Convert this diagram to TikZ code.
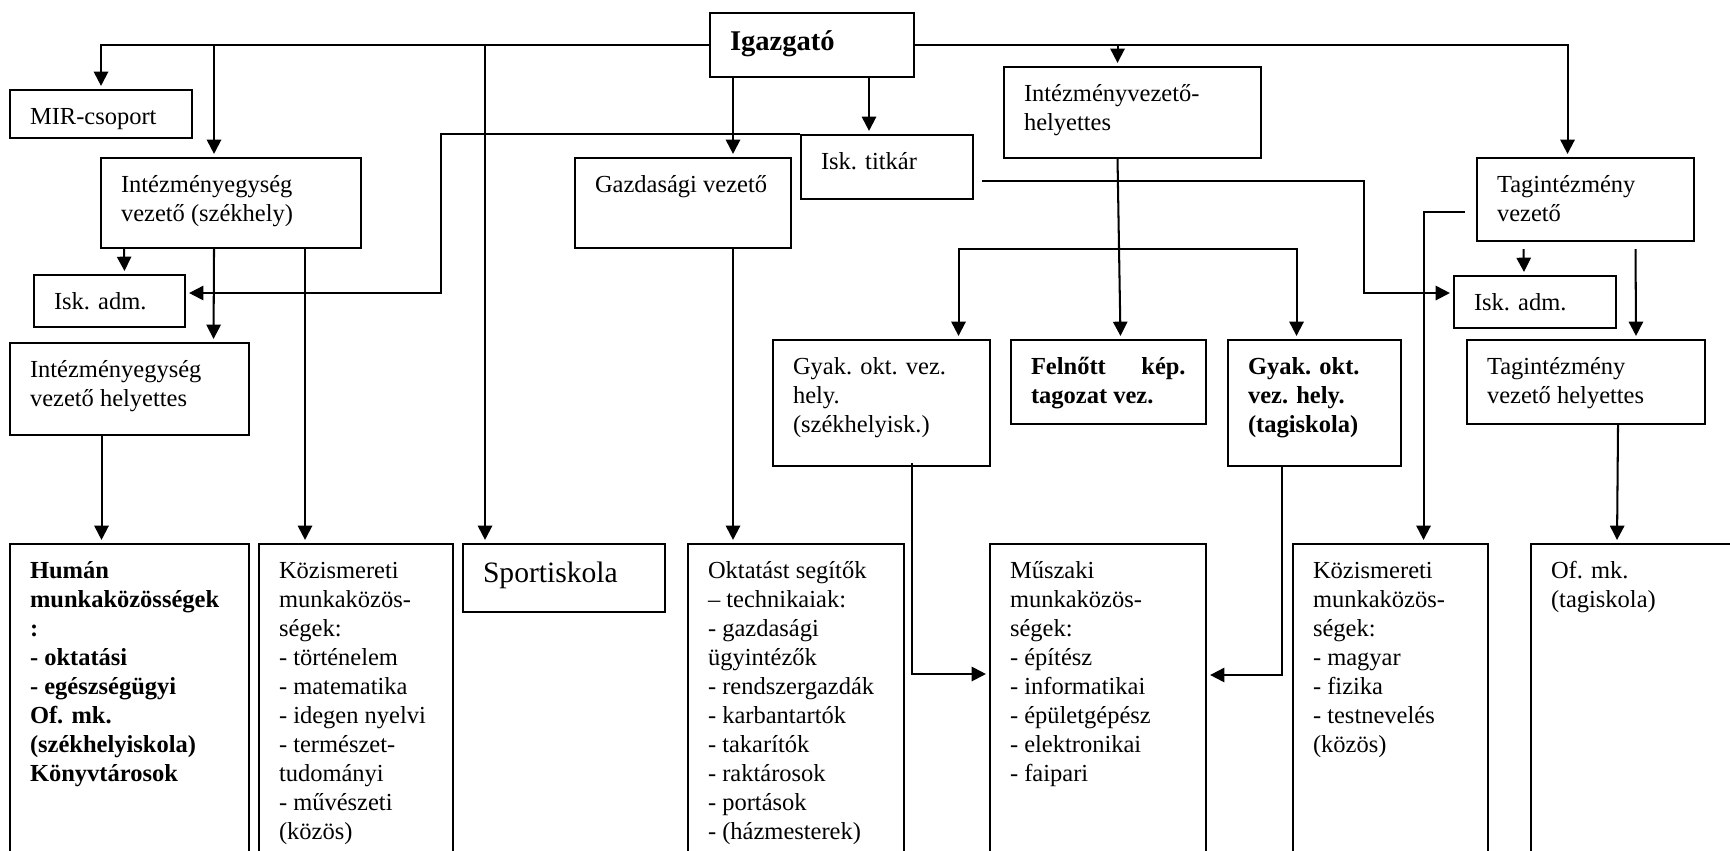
\documentclass[tikz,border=0pt]{standalone}
\usepackage{fontspec}
\setmainfont{Liberation Serif}
\usetikzlibrary{arrows.meta,calc}

\newlength{\px}
\setlength{\px}{0.49pt}
% box text: width, height (in px), content
\newcommand{\boxtext}[3]{\parbox[t][\dimexpr#2\px-13.8pt\relax][t]{#1\px}{\raggedright\leftskip=9.8pt\hyphenpenalty=10000\strut#3}}

\begin{document}
\begin{tikzpicture}[x=0.49pt, y=-0.49pt]
        \tikzstyle{box_style} = [draw, line width=1pt, anchor=north west, inner xsep=0pt, inner ysep=6.9pt, font=\fontsize{12}{14.2}\selectfont]
        \tikzstyle{arrow_style} = [-{Triangle[length=7pt,width=7pt]}, line width=1pt, shorten >=1.5pt]

        \useasboundingbox (0,0) rectangle (1730,850);
        \clip (0,0) rectangle (1730,850);

        % The head at the top
        \node[box_style, font=\fontsize{14}{16.5}\selectfont\bfseries] (igazgato) at (709,12) {\boxtext{204}{64}{Igazgató}};

        % Then the second row
        \node[box_style] (mir) at (9,89) {\boxtext{182}{45}{MIR-csoport}};
        \node[box_style] (ievez) at (100,157) {\boxtext{260}{90}{Intézményegység\\vezető (székhely)}};
        \node[box_style] (gazd) at (574,157) {\boxtext{216}{90}{Gazdasági vezető}};
        \node[box_style] (titkar) at (800,134) {\boxtext{172}{64}{Isk. titkár}};
        \node[box_style] (ivh) at (1003,66) {\boxtext{257}{91}{Intézményvezető-\\helyettes}};
        \node[box_style] (tagvez) at (1476,157) {\boxtext{217}{83}{Tagintézmény\\vezető}};

        % Middle rows
        \node[box_style] (admL) at (33,274) {\boxtext{151}{52}{Isk. adm.}};
        \node[box_style] (admR) at (1453,275) {\boxtext{162}{52}{Isk. adm.}};
        \node[box_style] (ievh) at (9,342) {\boxtext{239}{92}{Intézményegység\\vezető helyettes}};
        \node[box_style] (gyaksz) at (772,339) {\boxtext{217}{126}{Gyak. okt. vez.\\hely.\\(székhelyisk.)}};
        \node[box_style] (felnott) at (1010,339) {\boxtext{195}{84}{\bfseries Felnőtt\hfill kép.\kern10pt\\tagozat vez.}};
        \node[box_style] (gyaktag) at (1227,339) {\boxtext{173}{126}{\bfseries Gyak. okt.\\vez. hely.\\(tagiskola)}};
        \node[box_style] (tagvh) at (1466,339) {\boxtext{238}{84}{Tagintézmény\\vezető helyettes}};

        % Bottom row, cut off at the lower edge
        \node[box_style] (human) at (9,543) {\boxtext{239}{360}{\bfseries Humán\\munkaközösségek\\:\\- oktatási\\- egészségügyi\\Of. mk.\\(székhelyiskola)\\Könyvtárosok}};
        \node[box_style] (kozL) at (258,543) {\boxtext{194}{360}{Közismereti\\munkaközös-\\ségek:\\- történelem\\- matematika\\- idegen nyelvi\\- természet-\\tudományi\\- művészeti\\(közös)}};
        \node[box_style, font=\fontsize{14.5}{17}\selectfont] (sport) at (462,543) {\boxtext{202}{68}{Sportiskola}};
        \node[box_style] (oktat) at (687,543) {\boxtext{216}{360}{Oktatást segítők\\– technikaiak:\\- gazdasági\\ügyintézők\\- rendszergazdák\\- karbantartók\\- takarítók\\- raktárosok\\- portások\\- (házmesterek)}};
        \node[box_style] (muszaki) at (989,543) {\boxtext{216}{360}{Műszaki\\munkaközös-\\ségek:\\- építész\\- informatikai\\- épületgépész\\- elektronikai\\- faipari}};
        \node[box_style] (kozR) at (1292,543) {\boxtext{195}{360}{Közismereti\\munkaközös-\\ségek:\\- magyar\\- fizika\\- testnevelés\\(közös)}};
        \node[box_style] (ofmk) at (1530,543) {\boxtext{240}{360}{Of. mk.\\(tagiskola)}};

        % Lines from the head
        \draw[arrow_style] (igazgato.west) -| (mir.north);
        \draw[arrow_style] (igazgato.west) -| ($(ievez.north)+(-17,0)$);
        \draw[arrow_style] (igazgato.west) -| ($(sport.north)+(-79,0)$);
        \draw[arrow_style] ($(igazgato.south)+(-79,0)$) -- ($(gazd.north)+(50,0)$);
        \draw[arrow_style] ($(igazgato.south)+(57,0)$) -- ($(titkar.north)+(-18,0)$);
        \draw[arrow_style] (igazgato.east) -| ($(tagvez.north)+(-18,0)$);
        \draw[arrow_style] (igazgato.east) -| ($(ivh.north)+(-15,0)$);

        % Isk. titkar to both adm. boxes
        \draw[arrow_style] (titkar.north west) -| ($(admL.east)+(255,-8)$) -- ($(admL.east)+(0,-8)$);
        \draw[arrow_style] ($(titkar.east)+(8,14)$) -| ($(admR.west)+(-89,-9)$) -- ($(admR.west)+(0,-9)$);

        % Intezmenyvezeto-helyettes
        \draw[arrow_style] ($(ivh.south)+(-15,0)$) -- ($(felnott.north)+(12,0)$);
        \coordinate (split) at ($(ivh.south)+(-14,90)$);
        \draw[arrow_style] (split) -| ($(gyaksz.north)+(77,0)$);
        \draw[arrow_style] (split) -| ($(gyaktag.north)+(-18,0)$);
        \draw[arrow_style] ($(gyaksz.south)+(30,-4)$) |- ($(muszaki.north west)+(0,131)$);
        \draw[arrow_style] ($(gyaktag.south)+(-33,-2)$) |- ($(muszaki.north east)+(0,132)$);

        % Left side
        \draw[arrow_style] ($(ievez.south)+(-107,0)$) -- ($(admL.north)+(15,0)$);
        \draw[arrow_style] ($(ievez.south)+(-17,0)$) -- ($(ievh.north)+(84,0)$);
        \draw[arrow_style] ($(ievez.south)+(74,0)$) -- ($(kozL.north)+(-51,0)$);
        \draw[arrow_style] ($(ievh.south)+(-28,0)$) -- ($(human.north)+(-28,0)$);
        \draw[arrow_style] ($(gazd.south)+(50,0)$) -- ($(oktat.north)+(-63,0)$);

        % Right side
        \draw[arrow_style] ($(tagvez.west)+(-11,12)$) -| ($(kozR.north)+(33,0)$);
        \draw[arrow_style] ($(tagvez.south)+(-62,7)$) -- ($(admR.north)+(-11,0)$);
        \draw[arrow_style] ($(tagvez.south)+(50,7)$) -- ($(tagvh.north)+(50,0)$);
        \draw[arrow_style] ($(tagvh.south)+(32,0)$) -- ($(ofmk.north west)+(87,0)$);
\end{tikzpicture}
\end{document}
